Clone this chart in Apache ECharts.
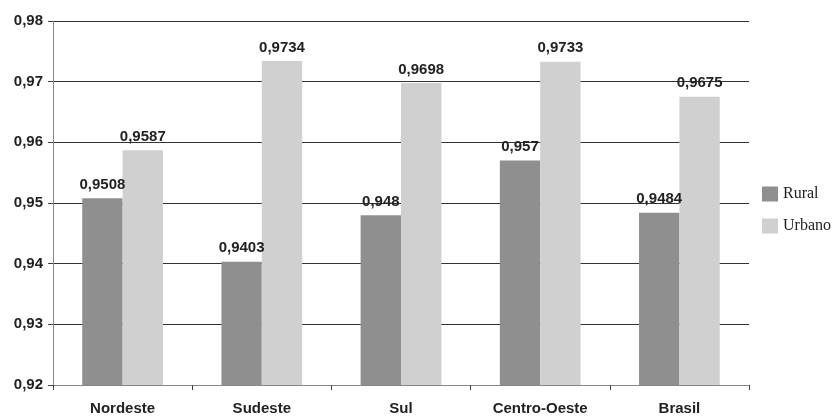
<!DOCTYPE html>
<html>
<head>
<meta charset="utf-8">
<script src="https://cdn.jsdelivr.net/npm/echarts@6/dist/echarts.min.js"></script>
<style>html,body{margin:0;padding:0;background:#fff}#c{width:840px;height:416px}</style>
</head>
<body>
<div id="c"></div>
<script>
const categories = ['Nordeste', 'Sudeste', 'Sul', 'Centro-Oeste', 'Brasil'];
const rural = [0.9508, 0.9403, 0.948, 0.957, 0.9484];
const urbano = [0.9587, 0.9734, 0.9698, 0.9733, 0.9675];
const seriesNames = ['Rural', 'Urbano'];

const chart = echarts.init(document.getElementById('c'));
const fmt = v => String(v).replace('.', ',');
const labelStyle = {
  show: true, position: 'top', distance: 6,
  fontFamily: 'Liberation Sans, Arial', fontWeight: 'bold', fontSize: 15, color: '#222',
  formatter: p => fmt(p.value)
};
chart.setOption({
  animation: false,
  grid: { left: 53, right: 91, top: 21, bottom: 31 },
  legend: {
    orient: 'vertical', left: 757, top: 181, itemWidth: 16, itemHeight: 15, itemGap: 16,
    icon: 'rect',
    textStyle: { fontFamily: 'Liberation Serif, Times New Roman', fontSize: 16, color: '#222' },
    data: seriesNames
  },
  xAxis: {
    type: 'category', data: categories,
    axisLine: { lineStyle: { color: '#888', width: 1 } },
    axisTick: { show: true, length: 5, lineStyle: { color: '#444' } },
    axisLabel: { fontFamily: 'Liberation Sans, Arial', fontWeight: 'bold', fontSize: 15, color: '#222', margin: 16 }
  },
  yAxis: {
    type: 'value', min: 0.92, max: 0.98, interval: 0.01,
    axisLine: { show: true, lineStyle: { color: '#888' } },
    axisTick: { show: true, length: 5, lineStyle: { color: '#444' } },
    splitLine: { lineStyle: { color: '#333', width: 1 } },
    axisLabel: { fontFamily: 'Liberation Sans, Arial', fontWeight: 'bold', fontSize: 15, color: '#222', margin: 10,
      formatter: v => v.toFixed(2).replace('.', ',') }
  },
  series: [
    { name: seriesNames[0], type: 'bar', data: rural, barGap: '0%', barCategoryGap: '42%',
      itemStyle: { color: '#8f8f8f' }, label: labelStyle },
    { name: seriesNames[1], type: 'bar', data: urbano, barGap: '0%', barCategoryGap: '42%',
      itemStyle: { color: '#d0d0d0' }, label: labelStyle }
  ]
});
</script>
</body>
</html>
